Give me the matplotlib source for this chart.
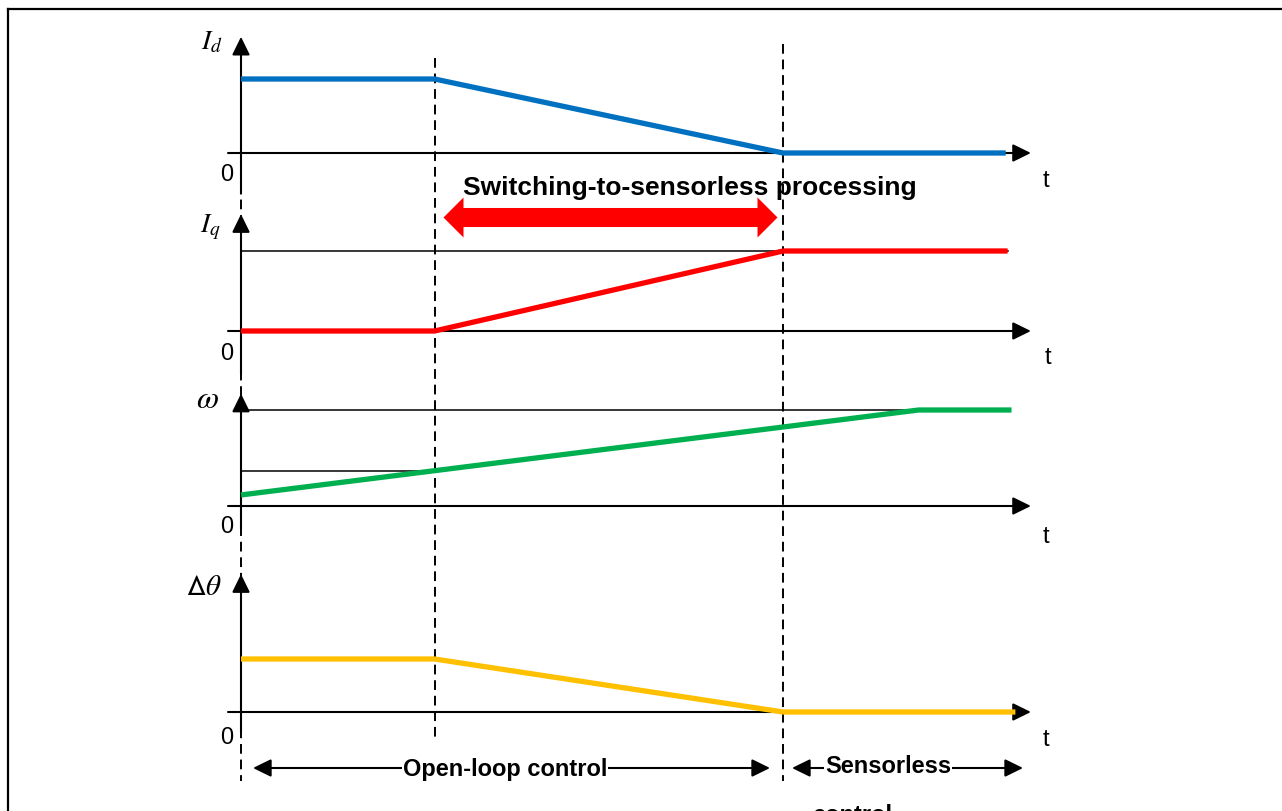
import matplotlib.pyplot as plt

plt.rcParams['font.family'] = ['Liberation Sans', 'DejaVu Sans']
plt.rcParams['mathtext.fontset'] = 'stix'

W, H = 1282, 812
X0 = 241      # pixel column of t = 0
K = 193.6     # pixels per time unit

# switching instants
T1 = 1.0      # open-loop ramp begins
T2 = 2.8      # sensorless control starts
T3 = 3.5      # speed reaches its target

# waveforms (time, normalised value)
id_t = [0, T1, T2, 3.95]
id_v = [1, 1, 0, 0]
iq_t = [0, T1, T2, 3.96]
iq_v = [0, 0, 1, 1]
w_t = [0, T3, 3.98]
w_v = [0.115, 1, 1]
dth_t = [0, T1, T2, 4.0]
dth_v = [1, 1, 0, 0]

# thin reference levels: (value, t_start, t_end)
iq_ref = [(1.0, 0, 3.96)]
w_ref = [(1.0, 0, T3), (0.36, 0, T1)]

BLUE, RED, GREEN, YELLOW = '#0070C0', '#FF0000', '#00B050', '#FFC000'

fig = plt.figure(figsize=(W / 100, H / 100), dpi=100)


def px2t(x):
    return (x - X0) / K


# overlay in (time, pixel row) coordinates for the decorations
ov = fig.add_axes([0, 0, 1, 1])
ov.set_xlim(px2t(0), px2t(W))
ov.set_ylim(H, 0)
ov.axis('off')

# frame (top and left edge only)
ov.plot([8 / W, 1], [1 - 10 / H, 1 - 10 / H], transform=ov.transAxes,
        color='black', lw=1.6, clip_on=False)
ov.plot([8 / W, 8 / W], [1 - 10 / H, 0], transform=ov.transAxes,
        color='black', lw=1.6, clip_on=False)

dash = (0, (5, 3))
ov.plot([0, 0], [45, 782], color='black', lw=1.4, ls=dash)
ov.plot([T1, T1], [59, 743], color='black', lw=1.4, ls=dash)
ov.plot([T2, T2], [45, 782], color='black', lw=1.4, ls=dash)

ax_kw = dict(arrowstyle='-|>,head_length=0.55,head_width=0.27',
             mutation_scale=20, lw=1.5, color='black', shrinkA=0, shrinkB=0)


def make_panel(y0, unit, top, bot, vtip, vbot):
    xl, xr = -0.2, 4.3
    left, right = X0 + xl * K, X0 + xr * K
    ax = fig.add_axes([left / W, 1 - bot / H, (right - left) / W, (bot - top) / H])
    ax.set_xlim(xl, xr)
    ax.set_ylim((y0 - bot) / unit, (y0 - top) / unit)
    ax.axis('off')
    ax.annotate('', xy=(4.08, 0), xytext=(-0.067, 0), arrowprops=ax_kw)
    ax.annotate('', xy=(0, vtip), xytext=(0, vbot), arrowprops=ax_kw)
    return ax


ax1 = make_panel(154, 74, 30, 200, 1.57, -0.55)
ax1.plot(id_t, id_v, color=BLUE, lw=3.8, solid_capstyle='butt', clip_on=False, zorder=4)

ax2 = make_panel(332, 80, 205, 380, 1.46, -0.54)
for v, a, b in iq_ref:
    ax2.plot([a, b], [v, v], color='black', lw=1.1)
ax2.plot(iq_t, iq_v, color=RED, lw=3.8, solid_capstyle='butt', clip_on=False, zorder=4)

ax3 = make_panel(507, 96, 385, 550, 1.17, -0.24)
for v, a, b in w_ref:
    ax3.plot([a, b], [v, v], color='black', lw=1.1)
ax3.plot(w_t, w_v, color=GREEN, lw=3.8, solid_capstyle='butt', clip_on=False, zorder=4)

ax4 = make_panel(713, 53, 565, 740, 2.6, -0.38)
ax4.plot(dth_t, dth_v, color=YELLOW, lw=3.8, solid_capstyle='butt', clip_on=False, zorder=4)

# axis labels
ov.text(px2t(212), 42, r'$I_d$', fontsize=20, ha='center', va='center')
ov.text(px2t(210), 227, r'$I_q$', fontsize=20, ha='center', va='center')
ov.text(px2t(207), 400, r'$\omega$', fontsize=23, ha='center', va='center')
ov.text(px2t(204), 587, r'$\mathsf{\Delta}\theta$', fontsize=21, ha='center', va='center')
for y in [175, 354, 527, 738]:
    ov.text(px2t(227), y, '0', fontsize=17, ha='center', va='center')
for x, y in [(1046, 181), (1048, 358), (1046, 537), (1046, 740)]:
    ov.text(px2t(x), y, 't', fontsize=17, ha='center', va='center')

# switching interval arrow: thick shaft plus two wide triangular heads
ya = 218
ov.plot([px2t(462), px2t(758)], [ya, ya], color=RED, lw=13.7, solid_capstyle='butt')
ov.plot([px2t(757)], [ya], marker=[(0, 1), (1, 0), (0, -1), (0, 1)],
        ms=28.8, mew=0, color=RED, ls='none')
ov.plot([px2t(463)], [ya], marker=[(0, 1), (-1, 0), (0, -1), (0, 1)],
        ms=28.8, mew=0, color=RED, ls='none')
ov.text(px2t(463), 188, 'Switching-to-sensorless processing', fontsize=19,
        weight='bold', ha='left', va='center', zorder=5)

# bottom interval arrows
bot_kw = dict(arrowstyle='<|-|>,head_length=0.55,head_width=0.27',
              mutation_scale=20, lw=1.5, color='black', shrinkA=0, shrinkB=0)
ov.annotate('', xy=(px2t(770), 769), xytext=(px2t(253), 769), arrowprops=bot_kw)
ov.annotate('', xy=(px2t(1023), 769), xytext=(px2t(792), 769), arrowprops=bot_kw)
box = dict(fc='white', ec='none', pad=0.3)
ov.text(px2t(505), 770, 'Open-loop control', fontsize=17, weight='bold',
        ha='center', va='center', bbox=box, zorder=5)
ov.text(px2t(888), 767, 'Sensorless', fontsize=17, weight='bold',
        ha='center', va='center', bbox=box, zorder=5)
ov.text(px2t(852), 822, 'control', fontsize=17, weight='bold',
        ha='center', va='baseline', zorder=5)

fig.savefig('out.png', dpi=100)
